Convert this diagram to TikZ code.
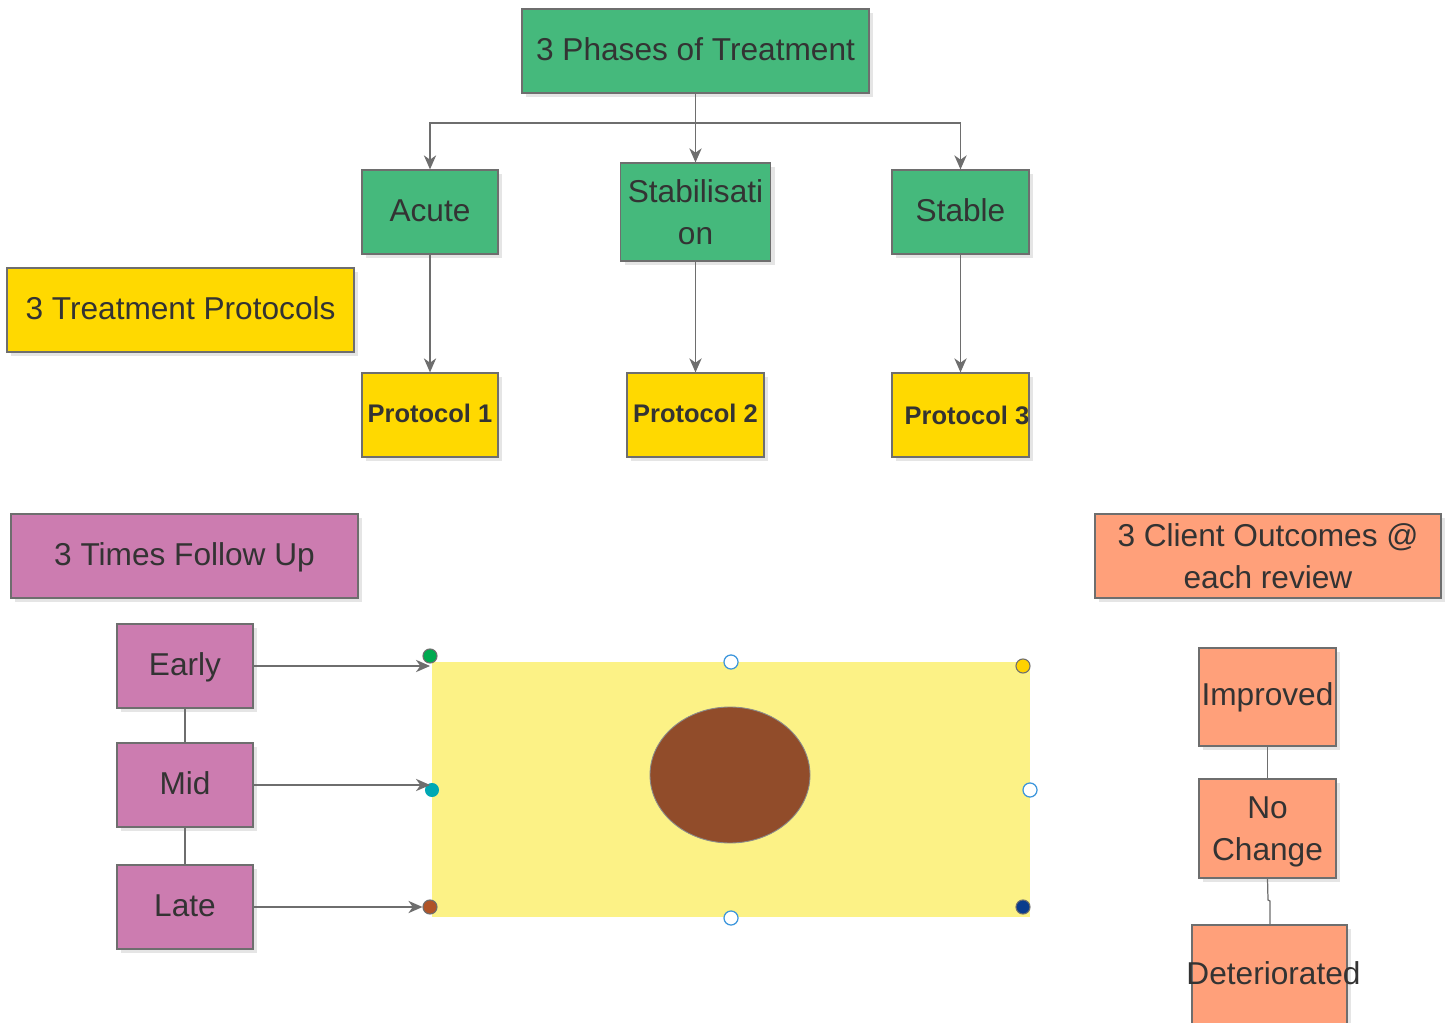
\documentclass[tikz,border=0pt]{standalone}
\usepackage{fontspec}
\setmainfont{Liberation Sans}
\usetikzlibrary{arrows.meta,shadows,positioning}
\definecolor{phasegreen}{RGB}{69,185,124}
\definecolor{protoyellow}{RGB}{255,217,0}
\definecolor{followpink}{RGB}{204,124,176}
\definecolor{outsalmon}{RGB}{255,160,122}
\definecolor{paleyellow}{RGB}{252,242,134}
\definecolor{ovalbrown}{RGB}{145,76,42}
\definecolor{edgegray}{RGB}{110,110,110}
\definecolor{inkgray}{RGB}{51,51,51}
\definecolor{dotgreen}{RGB}{0,170,80}
\definecolor{dotcyan}{RGB}{0,168,180}
\definecolor{dotbrown}{RGB}{176,84,40}
\definecolor{dotyellow}{RGB}{255,210,0}
\definecolor{dotnavy}{RGB}{10,60,140}
\definecolor{ringblue}{RGB}{60,150,220}
\tikzset{
  box/.style={draw=edgegray, line width=0.7pt, text=inkgray, inner sep=0pt,
    align=center, font=\fontsize{18}{24}\selectfont,
    drop shadow={shadow xshift=2.5pt, shadow yshift=-2.5pt, fill=black, opacity=0.10}},
  oneline/.style={text depth=0.21em},
  sz/.style 2 args={minimum width=#1*0.02cm, minimum height=#2*0.02cm},
  phase/.style={box, fill=phasegreen},
  proto/.style={box, fill=protoyellow},
  protolabel/.style={box, fill=protoyellow, font=\fontsize{14.5}{18}\selectfont\bfseries},
  follow/.style={box, fill=followpink},
  outcome/.style={box, fill=outsalmon},
  freetext/.style={text=inkgray, inner sep=0pt, align=center, font=\fontsize{18}{24}\selectfont},
  link/.style={draw=edgegray, line width=0.7pt},
  arrowlink/.style={link, -{Stealth[length=8pt,width=7pt,inset=2.5pt]}},
  dot/.style={circle, draw=edgegray, line width=0.6pt, minimum size=8pt, inner sep=0pt},
  ring/.style={circle, draw=ringblue, line width=0.7pt, fill=white, minimum size=8pt, inner sep=0pt}
}
\begin{document}
\begin{tikzpicture}[x=0.02cm, y=-0.02cm]
\useasboundingbox[fill=white] (0,0) rectangle (1447,1023);

% phases of treatment
\node[phase, oneline, sz={347}{84}] (phases) at (695.5,51) {3 Phases of Treatment};
\node[phase, oneline, sz={136}{84}] (acute) at (430,212) {Acute};
\node[phase, sz={150}{98}] (stab) at (695.5,212) {Stabilisati\\on};
\node[phase, oneline, sz={137}{84}] (stable) at (960.5,212) {Stable};

% protocols
\node[proto, oneline, sz={347}{84}] (protocols) at (180.5,310) {3 Treatment Protocols};
\node[protolabel, oneline, sz={136}{84}] (p1) at (430,415) {Protocol 1};
\node[protolabel, oneline, sz={137}{84}] (p2) at (695.5,415) {Protocol 2};
\node[proto, sz={137}{84}] (p3) at (960.5,415) {};
\node[text=inkgray, font=\fontsize{14.5}{18}\selectfont\bfseries, inner sep=0pt] (p3text) at (967,415) {Protocol 3};

% tree connectors
\coordinate (split) at (695.5,123);
\draw[link] (phases.south) -- (split);
\draw[arrowlink] (split) -| (acute.north);
\draw[arrowlink] (split) -- (stab.north);
\draw[arrowlink] (split) -| (stable.north);
\draw[arrowlink] (acute.south) -- (p1.north);
\draw[arrowlink] (stab.south) -- (p2.north);
\draw[arrowlink] (stable.south) -- (p3.north);

% follow up
\node[follow, oneline, sz={347}{84}] (followup) at (184.5,556) {3 Times Follow Up};
\node[follow, oneline, sz={136}{84}] (early) at (185,666) {Early};
\node[follow, oneline, sz={136}{84}] (mid) at (185,785) {Mid};
\node[follow, oneline, sz={136}{84}] (late) at (185,907) {Late};
\draw[link] (early.south) -- (mid.north);
\draw[link] (mid.south) -- (late.north);

% pale panel with oval and handles
\fill[paleyellow] (432,662) rectangle (1030,917);
\draw[fill=ovalbrown, draw=edgegray!80, line width=0.5pt] (730,775) ellipse [x radius=80, y radius=68];
\node[dot, fill=dotgreen] (hgreen) at (430,656) {};
\node[dot, fill=dotcyan, draw=none] (hcyan) at (432,790) {};
\node[dot, fill=dotbrown] (hbrown) at (430,907) {};
\node[dot, fill=dotyellow] (hyellow) at (1023,666) {};
\node[dot, fill=dotnavy] (hnavy) at (1023,907) {};
\node[ring] (rtop) at (731,662) {};
\node[ring] (rright) at (1030,790) {};
\node[ring] (rbottom) at (731,918) {};

\coordinate (earlyend) at (430,666);
\coordinate (midend) at (430,785);
\draw[arrowlink] (early.east |- earlyend) -- (earlyend);
\draw[arrowlink] (mid.east |- midend) -- (midend);
\draw[arrowlink] (late.east) -- (hbrown.west);

% client outcomes
\node[outcome, sz={346}{84}] (outcomes) at (1268,556) {3 Client Outcomes @\\each review};
\node[outcome, sz={137}{98}] (improved) at (1267.5,697) {Improved};
\node[outcome, sz={137}{99}] (nochange) at (1267.5,828.5) {};
\node[freetext] (nctext) at (1267.5,831.5) {No\\Change};
\node[outcome, sz={155}{110}] (det) at (1269.5,980) {};
\node[freetext] (dettext) at (1273.5,973) {Deteriorated};
\draw[link] (improved.south) -- (nochange.north);
\coordinate (jog) at (1268,900);
\draw[link] (nochange.south) -- (jog) -- (1270,901) -- (1270,925);
\end{tikzpicture}
\end{document}
